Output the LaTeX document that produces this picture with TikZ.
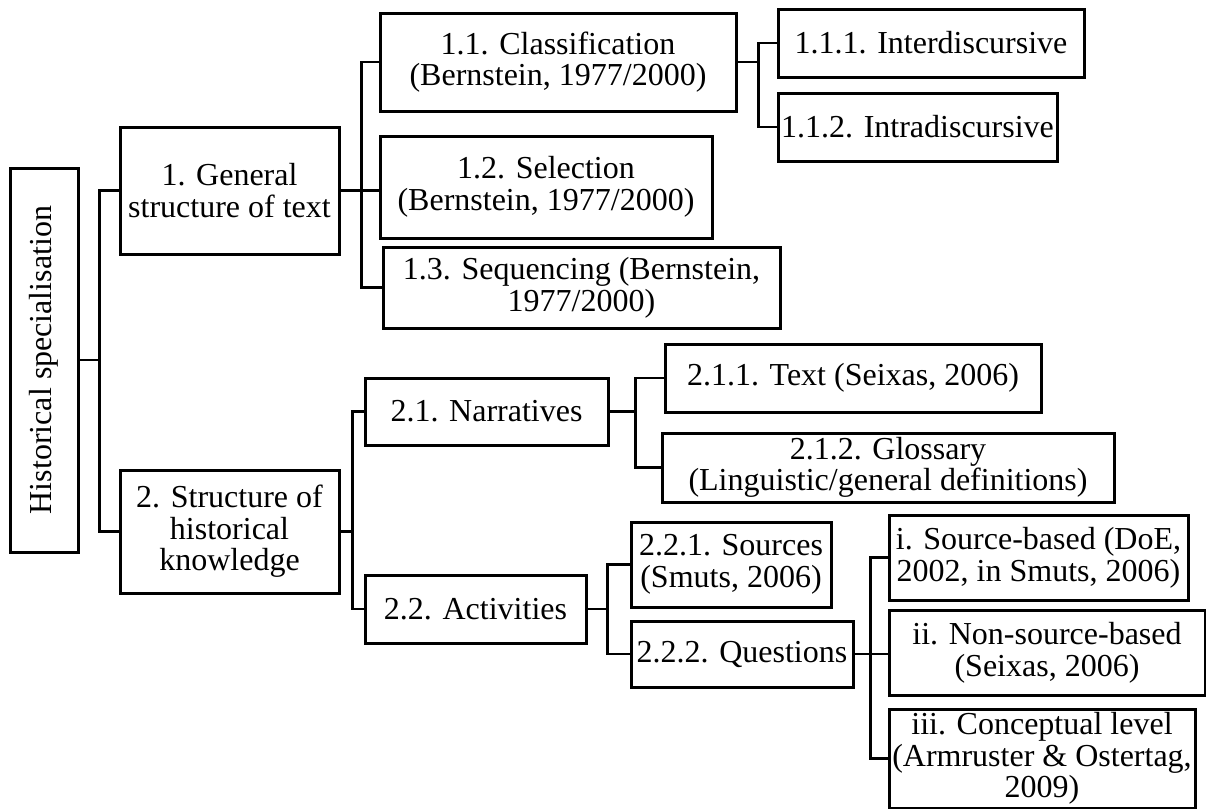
\documentclass[tikz,border=0pt]{standalone}
\usepackage{fontspec}
\setmainfont{Liberation Serif}

\tikzset{
    box/.style={draw, line width=1.5pt, align=center, inner sep=0pt, font=\fontsize{16}{15.8}\selectfont},
    wh/.style 2 args={minimum width=#1*0.5pt, minimum height=#2*0.5pt},
    link/.style={line width=1.3pt}
}

\begin{document}
\begin{tikzpicture}[x=0.5pt, y=-0.5pt]
    \useasboundingbox (0,0) rectangle (1206,809);
    % Root
    \node[box, wh={384}{68}, rotate=90] (root) at (44,360) {Historical specialisation};
    % Level 1
    \node[box, wh={219}{127}] (gen) at (229.5,190.5) {1. General\\structure of text};
    \node[box, wh={219}{123}] (hist) at (229.5,531.5) {2. Structure of\\historical\\knowledge};
    % Level 2
    \node[box, wh={356}{98}] (cls) at (558,62) {1.1. Classification\\(Bernstein, 1977/2000)};
    \node[box, wh={332}{102}] (sel) at (546,187) {1.2. Selection\\(Bernstein, 1977/2000)};
    \node[box, wh={397}{81}] (seq) at (581.5,287.5) {1.3. Sequencing (Bernstein,\\1977/2000)};
    \node[box, wh={243}{67}] (narr) at (486.5,411.5) {2.1. Narratives};
    \node[box, wh={221}{68}] (act) at (475.5,609) {2.2. Activities};
    % Level 3
    \node[box, wh={306}{68}] (inter) at (931,43) {1.1.1. Interdiscursive};
    \node[box, wh={279}{68}] (intra) at (917.5,127) {1.1.2. Intradiscursive};
    \node[box, wh={376}{68}] (txt) at (853,378) {2.1.1. Text (Seixas, 2006)};
    \node[box, wh={452}{69}] (glo) at (888,467.5) {2.1.2. Glossary\\(Linguistic/general definitions)};
    \node[box, wh={200}{85}] (src) at (731,564.5) {2.2.1. Sources\\(Smuts, 2006)};
    \node[box, wh={222}{66}] (que) at (742,654) {2.2.2. Questions};
    % Questions
    \node[box, wh={299}{85}] (qi) at (1038.5,557.5) {i. Source-based (DoE,\\2002, in Smuts, 2006)};
    \node[box, wh={316}{85}] (qii) at (1047,652.5) {ii. Non-source-based\\(Seixas, 2006)};
    \node[box, wh={306}{99}] (qiii) at (1042,758.5) {iii. Conceptual level\\(Armruster \& Ostertag,\\2009)};
    % Links
    \draw[link] (root.south) -- ++(20,0) coordinate (r0);
    \draw[link] (r0) |- (gen.west);
    \draw[link] (r0) |- (hist.west);
    \draw[link] (gen.east) -- ++(21,0) coordinate (g0);
    \draw[link] (g0) |- (cls.west);
    \draw[link] (g0) |- (seq.west);
    \draw[link] (g0) -- (g0 -| sel.west);
    \draw[link] (cls.east) -- ++(21,0) coordinate (c0);
    \draw[link] (c0) |- (inter.west);
    \draw[link] (c0) |- (intra.west);
    \draw[link] (hist.east) -- ++(12,0) coordinate (h0);
    \draw[link] (h0) |- (narr.west);
    \draw[link] (h0) |- (act.west);
    \draw[link] (narr.east) -- ++(26,0) coordinate (n0);
    \draw[link] (n0) |- (txt.west);
    \draw[link] (n0) |- (glo.west);
    \draw[link] (act.east) -- ++(20,0) coordinate (a0);
    \draw[link] (a0) |- (src.west);
    \draw[link] (a0) |- (que.west);
    \draw[link] (que.east) -- ++(16,0) coordinate (q0);
    \draw[link] (q0) |- (qi.west);
    \draw[link] (q0) |- (qiii.west);
    \draw[link] (q0) -- (q0 -| qii.west);
\end{tikzpicture}
\end{document}
